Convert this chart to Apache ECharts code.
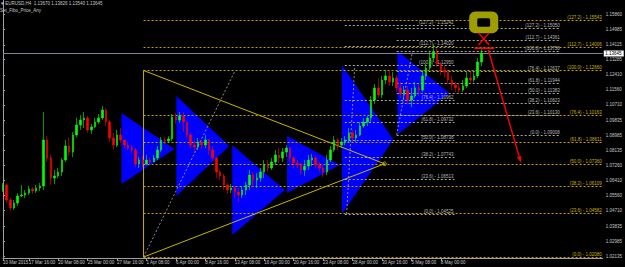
<!DOCTYPE html>
<html>
<head>
<meta charset="utf-8">
<script src="https://cdn.jsdelivr.net/npm/echarts@6/dist/echarts.min.js"></script>
<style>
html, body { margin: 0; padding: 0; background: #000; }
#chart { width: 625px; height: 267px; }
</style>
</head>
<body>
<div id="chart"></div>
<script>
// EURUSD H4 candles, one per 8h slot (open = previous close)
const firstOpen = 1.0588;
const closes = [
  1.0617, 1.0532, 1.0486, 1.0515, 1.0554, 1.0560, 1.0571, 1.0594, 1.0583, 1.0600,
  1.0611, 1.0872, 1.0770, 1.0656, 1.0668, 1.0690, 1.0758, 1.0838, 1.0804, 1.0900,
  1.0957, 1.0985, 1.0997, 1.0929, 1.0946, 1.0974, 1.0997, 1.1042, 1.0974, 1.0883,
  1.0843, 1.0900, 1.0872, 1.0843, 1.0826, 1.0815, 1.0736, 1.0758, 1.0736, 1.0758,
  1.0747, 1.0770, 1.0815, 1.0872, 1.0866, 1.0877, 1.1002, 1.0985, 1.1008, 1.0974,
  1.0900, 1.0843, 1.0832, 1.0860, 1.0843, 1.0872, 1.0815, 1.0770, 1.0690, 1.0668,
  1.0617, 1.0588, 1.0600, 1.0577, 1.0560, 1.0588, 1.0617, 1.0673, 1.0645, 1.0656,
  1.0690, 1.0730, 1.0713, 1.0747, 1.0787, 1.0770, 1.0804, 1.0826, 1.0770, 1.0741,
  1.0730, 1.0702, 1.0724, 1.0758, 1.0770, 1.0730, 1.0713, 1.0690, 1.0758, 1.0815,
  1.0872, 1.0843, 1.0860, 1.0872, 1.0912, 1.0883, 1.0900, 1.0951, 1.0974, 1.0997,
  1.1099, 1.1167, 1.1127, 1.1212, 1.1235, 1.1201, 1.1223, 1.1167, 1.1133, 1.1155,
  1.1099, 1.1121, 1.1167, 1.1155, 1.1235, 1.1280, 1.1337, 1.1371, 1.1303, 1.1269,
  1.1257, 1.1212, 1.1184, 1.1167, 1.1155, 1.1178, 1.1223, 1.1212, 1.1235, 1.1314,
  1.13645
];
const highs = [
  1.0628, 1.0622, 1.0543, 1.0532, 1.0571, 1.0617, 1.0588, 1.0611, 1.0605, 1.0617,
  1.0628, 1.1031, 1.0894, 1.0787, 1.0702, 1.0713, 1.0770, 1.0872, 1.0883, 1.0917,
  1.0997, 1.1014, 1.1031, 1.1008, 1.0963, 1.0997, 1.1019, 1.1065, 1.1053, 1.0985,
  1.0912, 1.0929, 1.0940, 1.0872, 1.0860, 1.0843, 1.0826, 1.0775, 1.0781, 1.0787,
  1.0775, 1.0787, 1.0838, 1.0889, 1.0889, 1.0894, 1.1019, 1.1025, 1.1031, 1.1031,
  1.0974, 1.0912, 1.0872, 1.0883, 1.0872, 1.0900, 1.0877, 1.0838, 1.0775, 1.0702,
  1.0679, 1.0628, 1.0622, 1.0611, 1.0600, 1.0611, 1.0634, 1.0702, 1.0690, 1.0685,
  1.0713, 1.0758, 1.0758, 1.0770, 1.0815, 1.0826, 1.0826, 1.0843, 1.0832, 1.0781,
  1.0758, 1.0741, 1.0758, 1.0787, 1.0792, 1.0781, 1.0747, 1.0730, 1.0787, 1.0838,
  1.0894, 1.0883, 1.0883, 1.0894, 1.0940, 1.0929, 1.0929, 1.0974, 1.0997, 1.1008,
  1.1121, 1.1189, 1.1223, 1.1235, 1.1269, 1.1269, 1.1257, 1.1240, 1.1201, 1.1178,
  1.1178, 1.1167, 1.1201, 1.1189, 1.1269, 1.1303, 1.1371, 1.1416, 1.1393, 1.1314,
  1.1291, 1.1269, 1.1235, 1.1201, 1.1189, 1.1212, 1.1257, 1.1257, 1.1257, 1.1337,
  1.1393
];
const lows = [
  1.0577, 1.0515, 1.0469, 1.0475, 1.0498, 1.0549, 1.0543, 1.0560, 1.0566, 1.0571,
  1.0583, 1.0588, 1.0747, 1.0617, 1.0622, 1.0656, 1.0668, 1.0747, 1.0781, 1.0775,
  1.0889, 1.0929, 1.0940, 1.0912, 1.0906, 1.0940, 1.0963, 1.0985, 1.0951, 1.0860,
  1.0815, 1.0832, 1.0855, 1.0826, 1.0815, 1.0798, 1.0719, 1.0713, 1.0719, 1.0730,
  1.0730, 1.0747, 1.0758, 1.0804, 1.0849, 1.0855, 1.0866, 1.0963, 1.0968, 1.0917,
  1.0883, 1.0826, 1.0804, 1.0815, 1.0821, 1.0826, 1.0787, 1.0753, 1.0656, 1.0645,
  1.0588, 1.0566, 1.0571, 1.0543, 1.0520, 1.0543, 1.0560, 1.0588, 1.0600, 1.0600,
  1.0634, 1.0656, 1.0690, 1.0702, 1.0730, 1.0741, 1.0747, 1.0775, 1.0747, 1.0713,
  1.0713, 1.0673, 1.0668, 1.0702, 1.0724, 1.0713, 1.0690, 1.0662, 1.0673, 1.0747,
  1.0804, 1.0815, 1.0826, 1.0843, 1.0855, 1.0860, 1.0860, 1.0894, 1.0940, 1.0951,
  1.0974, 1.1076, 1.1110, 1.1110, 1.1189, 1.1178, 1.1178, 1.1144, 1.1110, 1.1099,
  1.1076, 1.1059, 1.1110, 1.1121, 1.1144, 1.1212, 1.1269, 1.1314, 1.1286, 1.1240,
  1.1223, 1.1189, 1.1155, 1.1144, 1.1133, 1.1144, 1.1167, 1.1189, 1.1201, 1.1223,
  1.1291
];
const lastPrice = 1.13645;

// time axis
const slotCount = 164;
const dateTicks = [0, 7, 15, 23, 31, 39, 47, 55, 63, 71, 79, 87, 95, 103, 111, 119, 127];
const dateLabels = ['10 Mar 2015', '17 Mar 16:00', '20 Mar 08:00', '25 Mar 00:00', '27 Mar 16:00',
  '1 Apr 08:00', '6 Apr 00:00', '8 Apr 16:00', '13 Apr 08:00', '16 Apr 00:00', '20 Apr 16:00',
  '23 Apr 08:00', '28 Apr 00:00', '30 Apr 16:00', '5 May 08:00', '8 May 00:00', '12 May 16:00'];

// price axis
const priceMin = 1.02027;
const priceMax = 1.16656;
const priceTicks = [1.15860, 1.14985, 1.14115, 1.13285, 1.12410, 1.11560, 1.10710, 1.09835,
  1.08985, 1.08135, 1.07260, 1.06410, 1.05560, 1.04710, 1.03835, 1.02985, 1.02135];

// fibonacci sets (levels in %, prices)
const fibLevels = ['0.0', '23.6', '38.2', '50.0', '61.8', '76.4', '100.0', '112.7', '127.2'];
const fibAPrices = [1.02080, 1.04582, 1.06109, 1.07360, 1.08611, 1.10163, 1.12660, 1.14006, 1.15543];
const fibBPrices = [1.04525, 1.06513, 1.07743, 1.08738, 1.09732, 1.10962, 1.12950, 1.14020, 1.15242];
const fibCPrices = [1.09008, 1.10130, 1.10823, 1.11383, 1.11944, 1.12637, 1.13758, 1.14361, 1.15050];
const fibASpan = [38.2, 163];
const fibBSpan = [92.9, 122.7];
const fibCSpan = [107.0, 151.6];
const fibAAnchor = [38.2, 63.1];
const fibBAnchor = [93.4, 95.6];
const fibCAnchor = [107.0, 111.3];

// blue triangles: left edge slot, apex slot, top, bottom, apex price
const triLeft = [32.2, 47.1, 62.3, 77.2, 92.1, 107.2];
const triRight = [46.6, 61.5, 76.6, 91.5, 106.1, 121.3];
const triTop = [1.1025, 1.1121, 1.0843, 1.0894, 1.1295, 1.1376];
const triBottom = [1.0622, 1.0554, 1.0333, 1.0571, 1.04525, 1.0901];
const triApex = [1.0821, 1.0838, 1.0588, 1.0730, 1.0874, 1.1138];

// yellow symmetric triangle
const symTriangle = [[38.2, 1.1266], [103.7, 1.0737], [38.2, 1.0208]];

// target marks
const ringOuter = [[126.7, 1.1600], [134.6, 1.1477]];
const ringInner = [[128.9, 1.1562], [132.4, 1.1514]];
const crossBox = [[129.2, 1.1479], [132.1, 1.1410]];
const topBar = [[128.1, 1.1392], [133.5, 1.1392]];
const arrowPath = [[131.9, 1.1382], [140.8, 1.0741]];

const FONT = '"Liberation Sans Narrow", "Liberation Sans", Arial, sans-serif';
const FS = 4.5;

const candles = closes.map((c, i) => [i ? closes[i - 1] : firstOpen, c, lows[i], highs[i]]);
const slots = Array.from({ length: slotCount }, (_, i) => String(i));

const fibRows = [];
[[fibAPrices, fibASpan, '#c8a000', '#c8b400'],
 [fibBPrices, fibBSpan, '#a8a8a8', '#b8b8b8'],
 [fibCPrices, fibCSpan, '#a8a8a8', '#b8b8b8']].forEach(([prices, span, col, txt]) => {
  prices.forEach((p, k) => {
    fibRows.push({ from: span[0], to: span[1], price: p, color: col, textColor: txt,
      label: '(' + fibLevels[k] + ') - ' + p.toFixed(5) });
  });
});
const anchorRows = [
  [fibAAnchor[0], fibAPrices[0], fibAAnchor[1], fibAPrices[6]],
  [fibBAnchor[0], fibBPrices[0], fibBAnchor[1], fibBPrices[6]],
  [fibCAnchor[0], fibCPrices[0], fibCAnchor[1], fibCPrices[6]]
];

function fibItem(params, api) {
  const r = fibRows[params.dataIndex];
  const a = api.coord([r.from, r.price]);
  const b = api.coord([r.to, r.price]);
  const y = Math.round(a[1]) + 0.5;
  return {
    type: 'group',
    children: [
      { type: 'line', shape: { x1: a[0], y1: y, x2: b[0], y2: y },
        style: { stroke: r.color, lineWidth: 1, lineDash: [2, 2] } },
      { type: 'text', x: b[0] - 1, y: y - 0.5,
        style: { text: r.label, fill: r.textColor, font: FS + 'px ' + FONT, align: 'right', verticalAlign: 'bottom' } }
    ]
  };
}

function anchorItem(params, api) {
  const r = anchorRows[params.dataIndex];
  const a = api.coord([r[0], r[1]]);
  const b = api.coord([r[2], r[3]]);
  return { type: 'line', shape: { x1: a[0], y1: a[1], x2: b[0], y2: b[1] },
    style: { stroke: '#8c8c8c', lineWidth: 1, lineDash: [2, 2] } };
}

function triItem(params, api) {
  const i = params.dataIndex;
  return {
    type: 'polygon',
    shape: { points: [api.coord([triLeft[i], triTop[i]]), api.coord([triLeft[i], triBottom[i]]), api.coord([triRight[i], triApex[i]])] },
    style: { fill: '#0000ff' }
  };
}

function symItem(params, api) {
  const pts = symTriangle.map(p => api.coord(p));
  return {
    type: 'group',
    children: [
      { type: 'polygon', shape: { points: pts }, style: { fill: 'none', stroke: '#c8b400', lineWidth: 1 } },
      { type: 'circle', shape: { cx: pts[1][0], cy: pts[1][1], r: 1.8 }, style: { fill: 'none', stroke: '#c8b400', lineWidth: 1 } }
    ]
  };
}

// current bid line with its price box on the axis
function priceItem(params, api) {
  const a = api.coord([0, lastPrice]);
  const b = api.coord([slotCount - 1, lastPrice]);
  const y = Math.round(a[1]) + 0.5;
  return {
    type: 'group',
    children: [
      { type: 'line', shape: { x1: a[0], y1: y, x2: b[0], y2: y }, style: { stroke: '#778899', lineWidth: 1 } },
      { type: 'rect', shape: { x: b[0] + 1, y: y - 3, width: 20, height: 6 }, style: { fill: '#ffffff' } },
      { type: 'text', x: b[0] + 2.5, y: y,
        style: { text: lastPrice.toFixed(5), fill: '#000000', font: FS + 'px ' + FONT, align: 'left', verticalAlign: 'middle' } }
    ]
  };
}

function boxShape(box, api, r, fill) {
  const p0 = api.coord(box[0]), p1 = api.coord(box[1]);
  return { type: 'rect', shape: { x: p0[0], y: p0[1], width: p1[0] - p0[0], height: p1[1] - p0[1], r: r }, style: { fill: fill } };
}

function markItem(params, api) {
  const c0 = api.coord(crossBox[0]), c1 = api.coord(crossBox[1]);
  const t0 = api.coord(topBar[0]), t1 = api.coord(topBar[1]);
  const a = api.coord(arrowPath[0]), b = api.coord(arrowPath[1]);
  const ang = Math.atan2(b[1] - a[1], b[0] - a[0]);
  const L = 7, W = 2.2;
  const bx = b[0] - L * Math.cos(ang), by = b[1] - L * Math.sin(ang);
  const head = [[b[0], b[1]], [bx + W * Math.sin(ang), by - W * Math.cos(ang)], [bx - W * Math.sin(ang), by + W * Math.cos(ang)]];
  const red = { stroke: '#ff0000', lineWidth: 1.4 };
  return {
    type: 'group',
    children: [
      boxShape(ringOuter, api, 6, '#9e9e00'),
      boxShape(ringInner, api, 1.5, '#000000'),
      { type: 'line', shape: { x1: c0[0], y1: c0[1], x2: c1[0], y2: c1[1] }, style: red },
      { type: 'line', shape: { x1: c1[0], y1: c0[1], x2: c0[0], y2: c1[1] }, style: red },
      { type: 'line', shape: { x1: t0[0], y1: t0[1], x2: t1[0], y2: t1[1] }, style: { stroke: '#ff0000', lineWidth: 1.6 } },
      { type: 'line', shape: { x1: a[0], y1: a[1], x2: bx, y2: by }, style: red },
      { type: 'polygon', shape: { points: head }, style: { fill: '#ff0000' } }
    ]
  };
}

const chart = echarts.init(document.getElementById('chart'), null, { renderer: 'svg' });

chart.setOption({
  backgroundColor: '#000000',
  animation: false,
  graphic: [
    { type: 'text', left: 1, top: 1, z: 100,
      style: { text: '\u25BE EURUSD,H4  1.13670 1.13826 1.13540 1.13645', fill: '#c8c8c8', font: FS + 'px ' + FONT } },
    { type: 'text', left: 0, top: 8, z: 100,
      style: { text: 'Set_Fibo_Price_Any', fill: '#c8c8c8', font: FS + 'px ' + FONT } }
  ],
  grid: { left: 0, right: 22, top: 0, bottom: 9, containLabel: false },
  xAxis: [
    {
      type: 'category', data: slots, boundaryGap: false,
      axisLine: { show: true, lineStyle: { color: '#a0a0a0', width: 1 } },
      axisTick: { show: true, length: 3, interval: (i) => dateTicks.includes(i), lineStyle: { color: '#a0a0a0' } },
      axisLabel: {
        interval: (i) => dateTicks.includes(i),
        formatter: (v, i) => dateLabels[dateTicks.indexOf(i)] || '',
        showMinLabel: true, showMaxLabel: false, hideOverlap: false,
        color: '#c8c8c8', fontSize: FS, fontFamily: FONT, align: 'left', margin: 2
      },
      splitLine: { show: false }
    },
    { type: 'value', min: 0, max: slotCount - 1, show: false }
  ],
  yAxis: {
    type: 'value', position: 'right', min: priceMin, max: priceMax, scale: true,
    splitLine: { show: false },
    axisLine: { show: true, lineStyle: { color: '#a0a0a0', width: 1 } },
    axisTick: { show: true, customValues: priceTicks, length: 2, lineStyle: { color: '#a0a0a0' } },
    axisLabel: { customValues: priceTicks, formatter: (v) => v.toFixed(5), color: '#c8c8c8', fontSize: FS, fontFamily: FONT, margin: 3 }
  },
  series: [
    { type: 'custom', name: 'triangles', xAxisIndex: 1, z: 1, silent: true,
      renderItem: triItem, data: triLeft.map((u, i) => [u, triRight[i], triTop[i], triBottom[i]]), encode: { x: [0, 1], y: [2, 3] } },
    { type: 'custom', name: 'fib', xAxisIndex: 1, z: 2, silent: true,
      renderItem: fibItem, data: fibRows.map(r => [r.from, r.to, r.price]), encode: { x: [0, 1], y: 2 } },
    { type: 'custom', name: 'anchors', xAxisIndex: 1, z: 2, silent: true,
      renderItem: anchorItem, data: anchorRows, encode: { x: [0, 2], y: [1, 3] } },
    { type: 'custom', name: 'symmetric', xAxisIndex: 1, z: 3, silent: true,
      renderItem: symItem, data: [symTriangle[0].concat(symTriangle[1])], encode: { x: [0, 2], y: [1, 3] } },
    { type: 'custom', name: 'bid', xAxisIndex: 1, z: 3, silent: true,
      renderItem: priceItem, data: [[0, lastPrice]], encode: { x: 0, y: 1 } },
    {
      type: 'candlestick', name: 'EURUSD', xAxisIndex: 0, z: 4, data: candles, barWidth: 2,
      itemStyle: { color: '#00ff00', color0: '#ff0000', borderColor: '#00ff00', borderColor0: '#ff0000', borderWidth: 0.6 }
    },
    { type: 'custom', name: 'marks', xAxisIndex: 1, z: 5, silent: true,
      renderItem: markItem, data: [arrowPath[0].concat(arrowPath[1])], encode: { x: [0, 2], y: [1, 3] } }
  ]
});
</script>
</body>
</html>
